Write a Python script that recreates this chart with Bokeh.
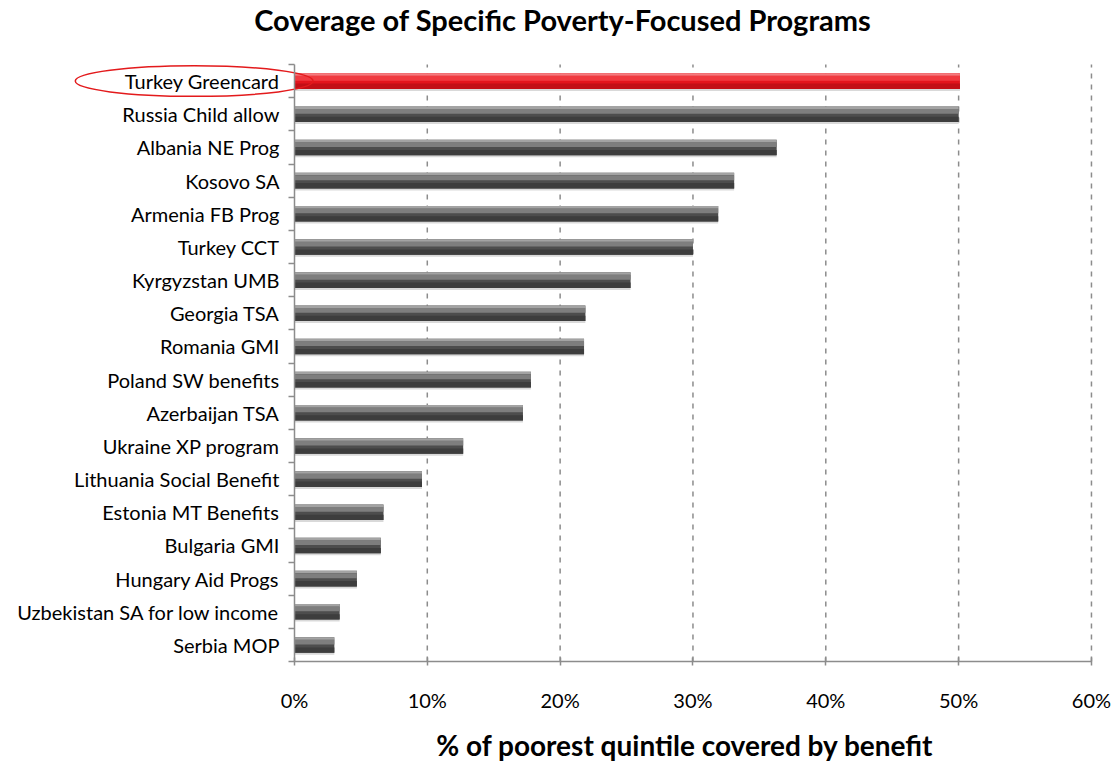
from bokeh.plotting import figure
from bokeh.models import (ColumnDataSource, FixedTicker, PrintfTickFormatter,
                          Label, Range1d)
from bokeh.embed import file_html
from bokeh.resources import INLINE

programs = ["Turkey Greencard", "Russia Child allow", "Albania NE Prog", "Kosovo SA",
            "Armenia FB Prog", "Turkey CCT", "Kyrgyzstan UMB", "Georgia TSA",
            "Romania GMI", "Poland SW benefits", "Azerbaijan TSA", "Ukraine XP program",
            "Lithuania Social Benefit", "Estonia MT Benefits", "Bulgaria GMI",
            "Hungary Aid Progs", "Uzbekistan SA for low income", "Serbia MOP"]
coverage = [50.1, 50.0, 36.3, 33.1, 31.9, 30.0, 25.3, 21.9, 21.8, 17.8, 17.2, 12.7,
            9.6, 6.7, 6.5, 4.7, 3.4, 3.0]
x_ticks = [0, 10, 20, 30, 40, 50, 60]
highlight = "Turkey Greencard"
title_text = "Coverage of Specific Poverty-Focused Programs"
x_title = "% of poorest quintile covered by benefit"

n = len(programs)
ypos = [n - 1 - i for i in range(n)]
is_hl = [p == highlight for p in programs]

FONT = "Lato"
X_LO, X_HI = x_ticks[0], x_ticks[-1]
Y_LO, Y_HI = -0.5, n - 0.5

# The frame covers the whole canvas; both axes are pinned at data locations so the
# label area (with its highlight ring) and the titles can be drawn inside it.
p = figure(width=1117, height=763, output_backend="svg", toolbar_location=None,
           x_range=Range1d(-22.13, 61.96), y_range=Range1d(-3.575, 19.43),
           min_border_left=0, min_border_right=0, min_border_top=0,
           min_border_bottom=0)
p.outline_line_color = None
p.background_fill_color = "white"
p.border_fill_color = "white"
p.xgrid.grid_line_color = None
p.ygrid.grid_line_color = None

# dashed vertical gridlines, bounded to the plotting area
p.segment(x0=x_ticks[1:], y0=Y_LO, x1=x_ticks[1:], y1=Y_HI, line_color="#8c8c8c",
          line_width=1.5, line_dash="5 6")

H = 0.47
def layer(dy, h, colors):
    src = ColumnDataSource(dict(y=[y + dy for y in ypos], right=coverage, c=colors))
    p.hbar(y="y", left=0, right="right", height=h, fill_color="c", line_color=None,
           source=src)

layer(-0.06, H, ["#d9d9d9"] * n)                                           # shadow
layer(0, H, ["#e3141c" if h else "#4d4d4d" for h in is_hl])                # base
layer(-H * 0.33, H * 0.34, ["#c20f16" if h else "#3d3d3d" for h in is_hl]) # lower shade
layer(H * 0.18, H * 0.3, ["#f03a40" if h else "#7e7e7e" for h in is_hl])   # highlight
layer(H * 0.42, H * 0.16, ["#f57a7e" if h else "#a3a3a3" for h in is_hl])  # top edge

# x axis
p.xaxis.fixed_location = Y_LO
p.xaxis.bounds = (X_LO, X_HI)
p.xaxis.ticker = FixedTicker(ticks=x_ticks, minor_ticks=[])
p.xaxis.formatter = PrintfTickFormatter(format="%d%%")
p.xaxis.axis_line_color = "#8c8c8c"
p.xaxis.axis_line_width = 1.5
p.xaxis.major_tick_line_color = "#8c8c8c"
p.xaxis.major_tick_line_width = 1.5
p.xaxis.major_tick_in = 4
p.xaxis.major_tick_out = 4
p.xaxis.major_label_text_font = FONT
p.xaxis.major_label_text_font_size = "20px"
p.xaxis.major_label_text_color = "black"
p.xaxis.major_label_standoff = 22

# y axis
p.yaxis.fixed_location = X_LO
p.yaxis.bounds = (Y_LO, Y_HI)
p.yaxis.ticker = FixedTicker(ticks=ypos, minor_ticks=[y + 0.5 for y in range(-1, n)])
p.yaxis.major_label_overrides = {y: lab for y, lab in zip(ypos, programs)}
p.yaxis.axis_line_color = "#8c8c8c"
p.yaxis.axis_line_width = 1.5
p.yaxis.major_tick_line_color = None
p.yaxis.minor_tick_line_color = "#8c8c8c"
p.yaxis.minor_tick_line_width = 1.5
p.yaxis.minor_tick_out = 6
p.yaxis.minor_tick_in = 0
p.yaxis.major_label_text_font = FONT
p.yaxis.major_label_text_font_size = "20px"
p.yaxis.major_label_text_color = "black"
p.yaxis.major_label_standoff = 9

# red ring around the highlighted program's label
hy = ypos[programs.index(highlight)]
p.ellipse(x=-7.55, y=hy, width=17.9, height=0.92, fill_color=None,
          line_color="#e31a1c", line_width=1.5)

# chart title and value-axis title
p.add_layout(Label(x=20.2, y=Y_HI + 1.36, text=title_text, text_align="center",
                   text_baseline="middle", text_font=FONT, text_font_style="bold",
                   text_font_size="29px", text_color="black"))
p.add_layout(Label(x=29.4, y=Y_LO - 2.52, text=x_title, text_align="center",
                   text_baseline="middle", text_font=FONT, text_font_style="bold",
                   text_font_size="28px", text_color="black"))

open("out.html", "w").write(file_html(p, INLINE))
